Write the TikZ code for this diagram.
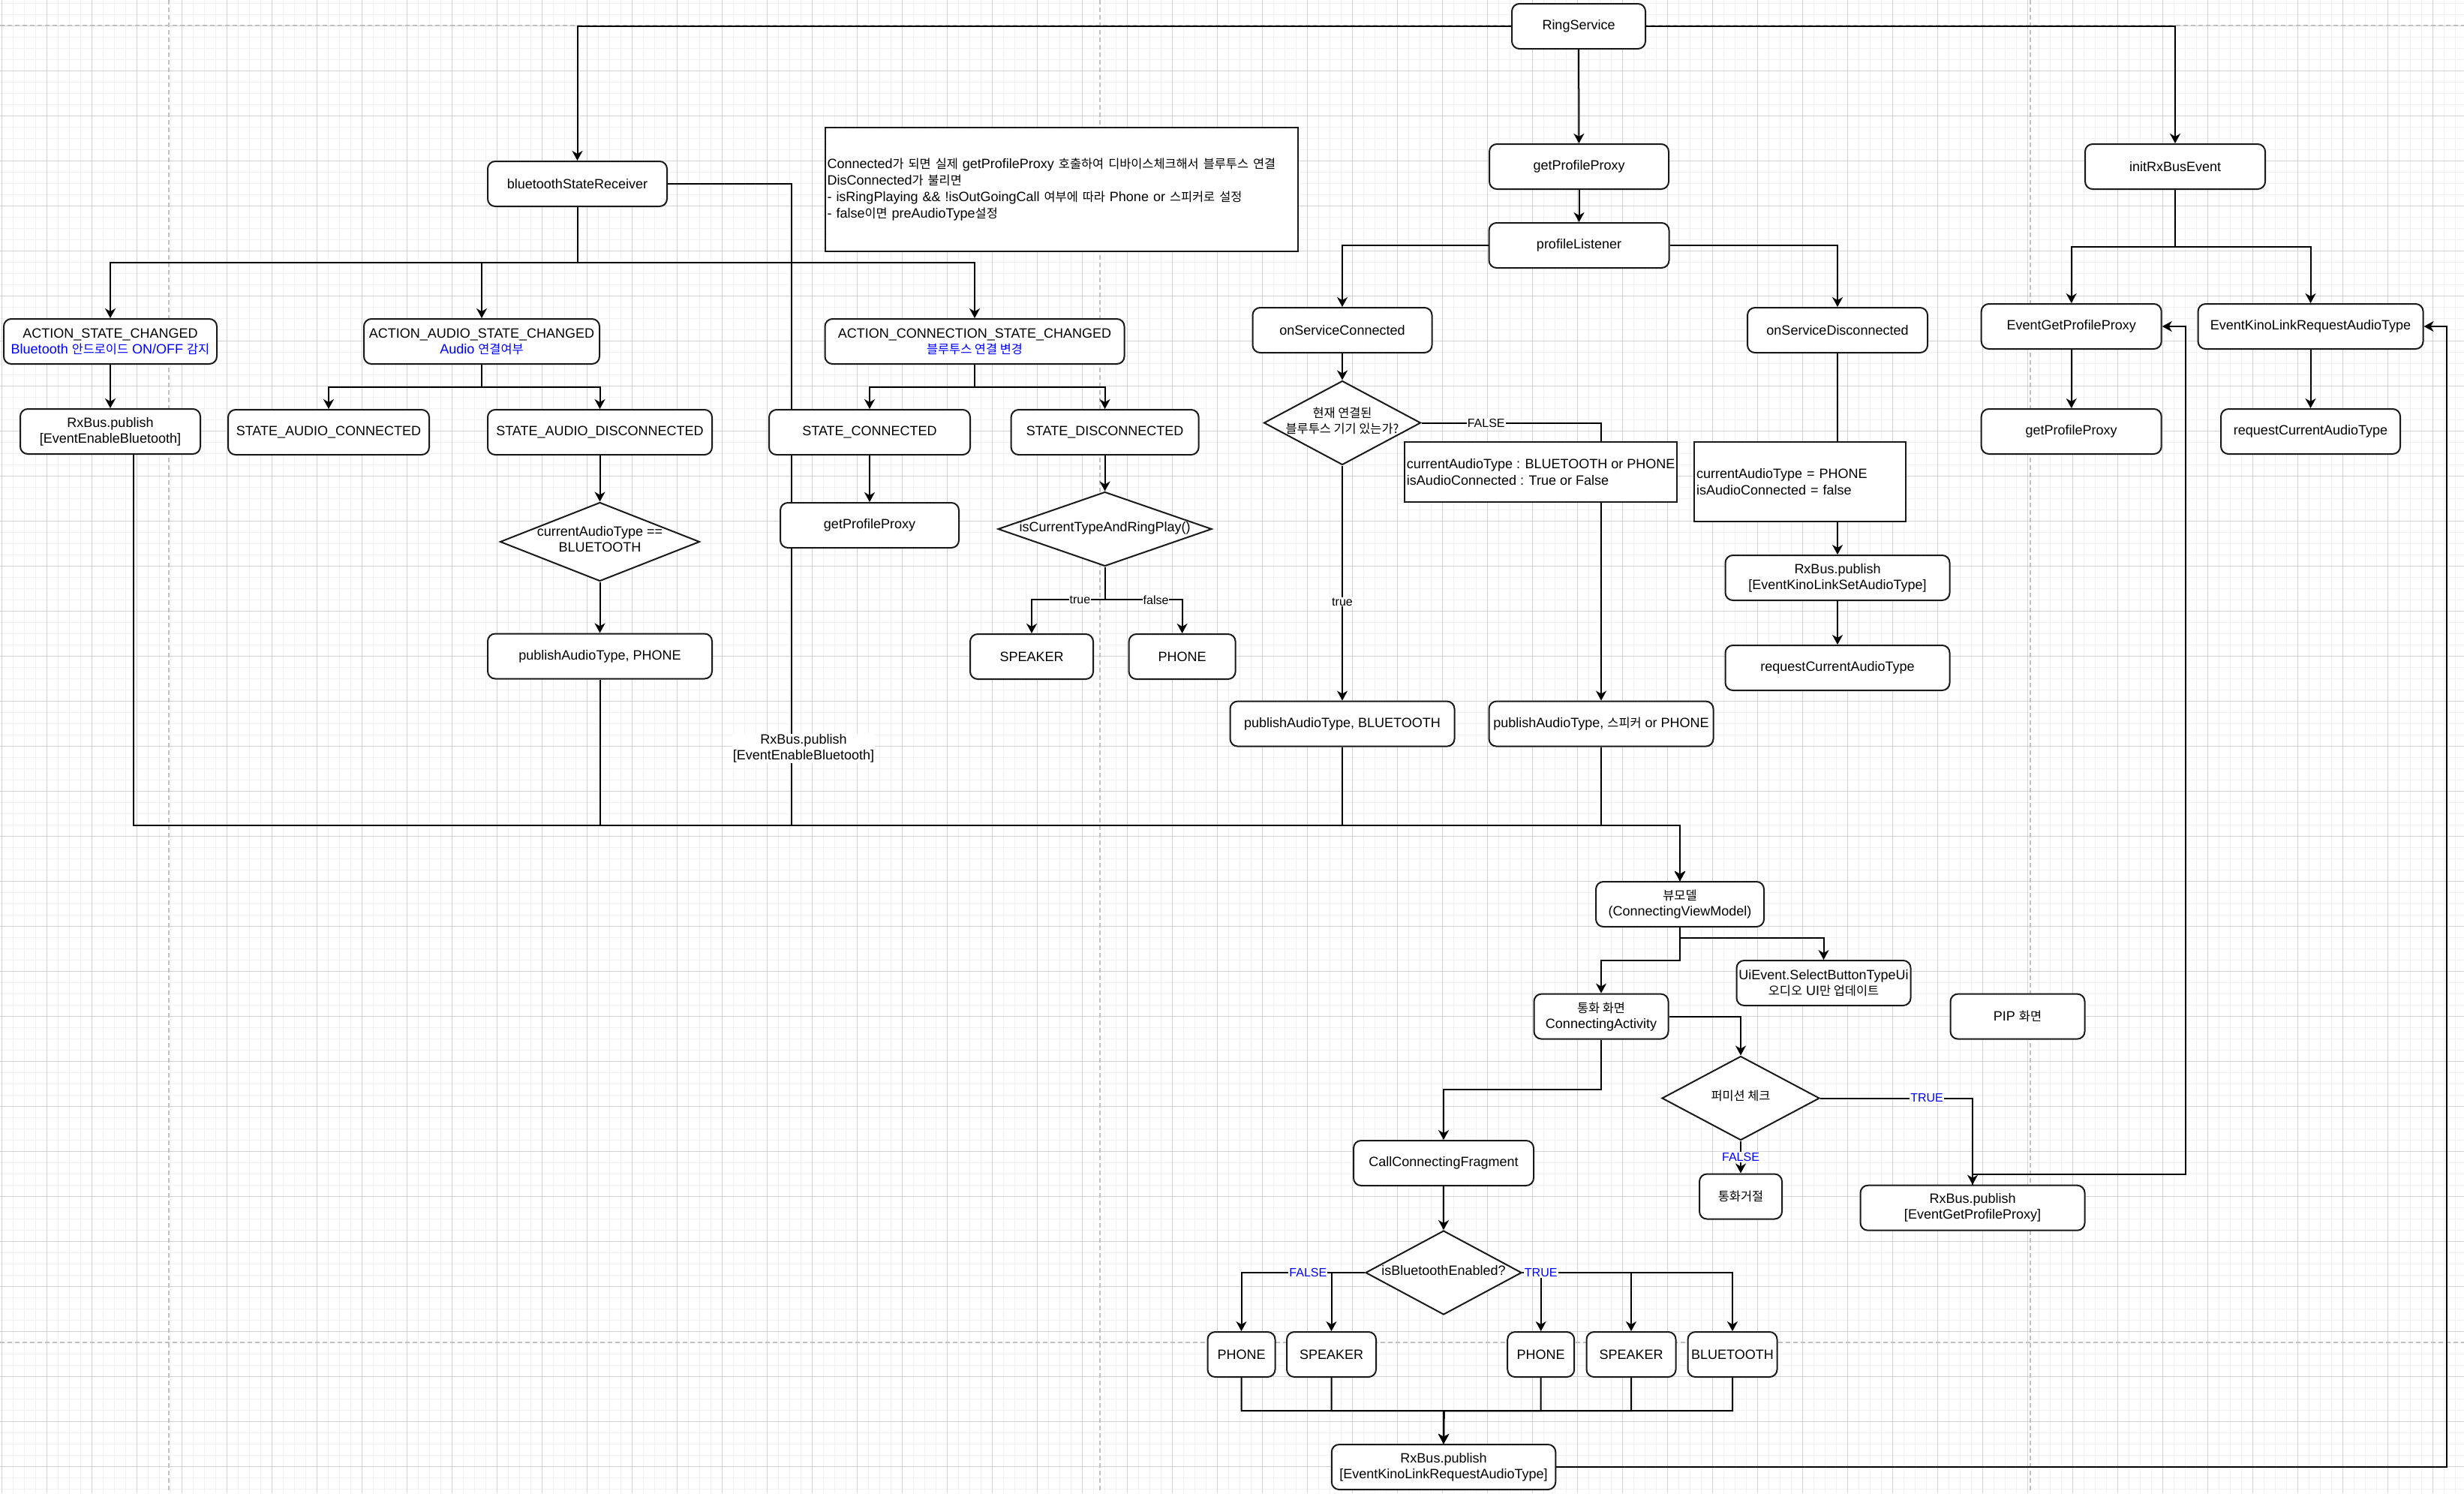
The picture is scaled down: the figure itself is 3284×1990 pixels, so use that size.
\documentclass[tikz,border=0pt]{standalone}
\usepackage{fontspec}
\setmainfont{Liberation Sans}
\newfontfamily\krfont[Scale=0.91]{Noto Sans CJK KR}
\newcommand{\kr}[1]{{\krfont #1}}
\usetikzlibrary{shapes.geometric, arrows.meta, positioning, calc}
\definecolor{gridminor}{RGB}{241,241,241}
\definecolor{gridmajor}{RGB}{210,210,210}
\definecolor{pagebreak}{RGB}{192,192,192}
\definecolor{strokecol}{RGB}{25,25,25}
\definecolor{hintblue}{RGB}{0,0,255}
\newcommand{\boxfont}{\fontsize{18}{21}\selectfont}
\newcommand{\memofont}{\fontsize{18}{22}\selectfont}
\newcommand{\lblfont}{\fontsize{16}{19}\selectfont}
\newcommand{\dtext}[1]{\makebox[0pt]{\smash{\raisebox{-3.5pt}{\begin{tabular}{@{}c@{}}#1\end{tabular}}}}}
\pgfdeclarelayer{grid}
\pgfdeclarelayer{background}
\pgfsetlayers{grid,background,main}
\tikzset{
  box/.style={
    rectangle, rounded corners=10pt,
    minimum width=#1, minimum height=60pt,
    draw=strokecol, line width=2pt, fill=white,
    font=\boxfont, align=center, inner sep=2pt
  },
  box/.default=240pt,
  decision/.style 2 args={
    diamond, minimum width=#1, minimum height=#2,
    draw=strokecol, line width=2pt, fill=white,
    font=\boxfont, inner sep=0pt
  },
  memo/.style={
    rectangle, draw=strokecol, line width=2pt, fill=white,
    font=\memofont, align=left, inner sep=3pt
  },
  flow/.style={-{Stealth[length=13pt, width=14pt, inset=4pt]}, line width=2pt, draw=black},
  elabel/.style={font=\lblfont, fill=white, inner sep=1pt},
  tlabel/.style={font=\boxfont, fill=white, inner sep=1pt, align=center}
}

\begin{document}
\begin{tikzpicture}[x=1pt, y=-1pt]
\useasboundingbox (0,0) rectangle (3284,1990);

% ═══════════════════════════════════════════════════════════════════
% CANVAS — grid and page breaks
% ═══════════════════════════════════════════════════════════════════
\begin{pgfonlayer}{grid}
  \fill[white] (0,0) rectangle (3284,1990);
  \foreach \gx in {2.3,17.3,...,3284} \draw[gridminor, line width=1pt] (\gx,0) -- (\gx,1990);
  \foreach \gy in {4.3,19.3,...,1990} \draw[gridminor, line width=1pt] (0,\gy) -- (3284,\gy);
  \foreach \gx in {2.3,62.3,...,3284} \draw[gridmajor, line width=1pt] (\gx,0) -- (\gx,1990);
  \foreach \gy in {34.3,94.3,...,1990} \draw[gridmajor, line width=1pt] (0,\gy) -- (3284,\gy);
  \foreach \gx in {225,1465.5,2706}
    \draw[pagebreak, line width=2pt, dash pattern=on 6pt off 4pt] (\gx,0) -- (\gx,1990);
  \foreach \gy in {34.3,1789}
    \draw[pagebreak, line width=2pt, dash pattern=on 6pt off 4pt] (0,\gy) -- (3284,\gy);
\end{pgfonlayer}

% ═══════════════════════════════════════════════════════════════════
% TOP — RingService and its three children
% ═══════════════════════════════════════════════════════════════════
\node[box=178pt] (ringsvc) at (2104,35) {RingService};

\node[box=239pt] (btrecv)   at (769.5,245) {bluetoothStateReceiver};
\node[box=239pt] (getproxy) at (2104.5,222) {getProfileProxy};
\node[box=240pt] (initrx)   at (2899,222) {initRxBusEvent};

\node[box=240pt, below=43pt of getproxy] (proflistener) {profileListener};

\node[memo, text width=624pt, minimum height=165pt] (notebig) at (1414.5,252.5)
  {Connected\kr{가 되면 실제} getProfileProxy \kr{호출하여 디바이스체크해서 블루투스 연결}\\
   DisConnected\kr{가 불리면}\\
   - isRingPlaying \&\& !isOutGoingCall \kr{여부에 따라} Phone or \kr{스피커로 설정}\\
   - false\kr{이면} preAudioType\kr{설정}};

% ═══════════════════════════════════════════════════════════════════
% LEFT — bluetoothStateReceiver actions
% ═══════════════════════════════════════════════════════════════════
\node[box=284pt] (actstate) at (147,455)
  {ACTION\_STATE\_CHANGED\\\textcolor{hintblue}{Bluetooth \kr{안드로이드} ON/OFF \kr{감지}}};
\node[box=314pt] (actaudio) at (642,455)
  {ACTION\_AUDIO\_STATE\_CHANGED\\\textcolor{hintblue}{Audio \kr{연결여부}}};
\node[box=399pt] (actconn) at (1299,455)
  {ACTION\_CONNECTION\_STATE\_CHANGED\\\textcolor{hintblue}{\kr{블루투스 연결 변경}}};

\node[box=240pt, below=58pt of actstate] (rxenable) {RxBus.publish\\{[}EventEnableBluetooth{]}};

\node[box=268pt] (staudioconn) at (438,576)    {STATE\_AUDIO\_CONNECTED};
\node[box=299pt] (staudiodisc) at (799.5,576)  {STATE\_AUDIO\_DISCONNECTED};
\node[box=268pt] (stconn)      at (1159,576)   {STATE\_CONNECTED};
\node[box=250pt] (stdisc)      at (1472.6,576) {STATE\_DISCONNECTED};

\node[decision={266pt}{105pt}] (decbtaudio) at (799.5,722) {\dtext{currentAudioType ==\\BLUETOOTH}};
\node[box=299pt, below=68pt of decbtaudio] (pubphone) {publishAudioType, PHONE};

\node[box=238pt, below=62pt of stconn] (getproxymid) {getProfileProxy};
\node[decision={285pt}{99pt}] (decringplay) at (1472.6,705) {\dtext{isCurrentTypeAndRingPlay()}};
\node[box=164pt] (speakermid) at (1375,875)   {SPEAKER};
\node[box=142pt] (phonemid)   at (1575.6,875) {PHONE};

% ═══════════════════════════════════════════════════════════════════
% MIDDLE — profileListener callbacks
% ═══════════════════════════════════════════════════════════════════
\node[box=239pt] (svcconn) at (1789,440) {onServiceConnected};
\node[box=240pt] (svcdisc) at (2449,440) {onServiceDisconnected};

\node[decision={209pt}{112pt}] (decbt) at (1789,563.5) {\dtext{\kr{현재 연결된}\\\kr{블루투스 기기 있는가?}}};

\node[memo, minimum width=363.5pt, minimum height=80pt] (notefalse) at (2053.7,629.4)
  {currentAudioType : BLUETOOTH or PHONE\\isAudioConnected : True or False};
\node[memo, text width=275.5pt, minimum height=105.6pt] (notephone) at (2398.8,642.2)
  {currentAudioType = PHONE\\isAudioConnected = false};

\node[box=299pt] (pubbt)  at (1789,964.6) {publishAudioType, BLUETOOTH};
\node[box=299pt] (pubspk) at (2134,964.6) {publishAudioType, \kr{스피커} or PHONE};

\node[box=299pt] (rxsetaudio) at (2449,770) {RxBus.publish\\{[}EventKinoLinkSetAudioType{]}};
\node[box=299pt, below=58pt of rxsetaudio] (reqaudiomid) {requestCurrentAudioType};

% ═══════════════════════════════════════════════════════════════════
% RIGHT — initRxBusEvent subscriptions
% ═══════════════════════════════════════════════════════════════════
\node[box=240pt] (evgetproxy) at (2760.7,435) {EventGetProfileProxy};
\node[box=300pt] (evkinoreq)  at (3079.5,435) {EventKinoLinkRequestAudioType};
\node[box=240pt, below=78pt of evgetproxy] (getproxyright) {getProfileProxy};
\node[box=239pt, below=78pt of evkinoreq]  (reqaudioright) {requestCurrentAudioType};

% ═══════════════════════════════════════════════════════════════════
% BOTTOM — view model and call screen
% ═══════════════════════════════════════════════════════════════════
\coordinate (bus) at (2239,1100);

\node[box=224pt] (viewmodel) at (2239,1205) {\kr{뷰모델}\\(ConnectingViewModel)};
\node[box=232pt] (uievent)   at (2430.5,1310) {UiEvent.SelectButtonTypeUi\\\kr{오디오} UI\kr{만 업데이트}};
\node[box=179pt] (activity)  at (2134,1354.6) {\kr{통화 화면}\\ConnectingActivity};
\node[box=179pt] (pip)       at (2689,1354.6) {PIP \kr{화면}};

\node[decision={210pt}{112pt}] (decperm) at (2320,1463.5) {\dtext{\kr{퍼미션 체크}}};
\node[box=110pt, below=43pt of decperm] (reject) {\kr{통화거절}};
\node[box=299pt] (rxgetproxy) at (2629,1609.7) {RxBus.publish\\{[}EventGetProfileProxy{]}};

\node[box=240pt] (callfrag) at (1924,1550) {CallConnectingFragment};
\node[decision={208pt}{112pt}, below=58pt of callfrag] (decbten) {\dtext{isBluetoothEnabled?}};

\node[box=90pt]  (phoneF)   at (1654.5,1805) {PHONE};
\node[box=119pt] (speakerF) at (1774.5,1805) {SPEAKER};
\node[box=89pt]  (phoneT)   at (2053.7,1805) {PHONE};
\node[box=119pt] (speakerT) at (2174,1805)   {SPEAKER};
\node[box=119pt] (btT)      at (2309,1805)   {BLUETOOTH};

\coordinate (merge) at (1924.3,1880);
\node[box=298.5pt] (rxreqaudio) at (1924,1955) {RxBus.publish\\{[}EventKinoLinkRequestAudioType{]}};

% ═══════════════════════════════════════════════════════════════════
% SEQUENCE FLOWS (behind the boxes)
% ═══════════════════════════════════════════════════════════════════
\begin{pgfonlayer}{background}

% RingService fan-out
\draw[flow] (ringsvc.west) -| (btrecv.north);
\draw[flow] (ringsvc) -- (getproxy);
\draw[flow] (ringsvc.east) -| (initrx.north);
\draw[flow] (getproxy) -- (proflistener);

% bluetoothStateReceiver actions
\draw[flow] (btrecv.south) -- ++(0,73.6) -| (actstate.north);
\draw[flow] (btrecv.south) -- ++(0,73.6) -| (actaudio.north);
\draw[flow] (btrecv.south) -- ++(0,73.6) -| (actconn.north);
\draw[flow] (actstate) -- (rxenable);

\draw[flow] (actaudio.south) -- ++(0,29.6) -| (staudioconn.north);
\draw[flow] (actaudio.south) -- ++(0,29.6) -| (staudiodisc.north);
\draw[flow] (staudiodisc) -- (decbtaudio);
\draw[flow] (decbtaudio) -- (pubphone);

\draw[flow] (actconn.south) -- ++(0,29.6) -| (stconn.north);
\draw[flow] (actconn.south) -- ++(0,29.6) -| (stdisc.north);
\draw[flow] (stconn) -- (getproxymid);
\draw[flow] (stdisc) -- (decringplay);
\draw[flow] (decringplay.south) -- ++(0,43.8) -| node[elabel, pos=0.17]{true} (speakermid.north);
\draw[flow] (decringplay.south) -- ++(0,43.8) -| node[elabel, pos=0.33]{false} (phonemid.north);

% profileListener callbacks
\draw[flow] (proflistener.west) -| (svcconn.north);
\draw[flow] (proflistener.east) -| (svcdisc.north);
\draw[flow] (svcconn) -- (decbt);
\draw[flow] (decbt) -- node[elabel, pos=0.58]{true} (pubbt);
\draw[flow] (decbt.east) -| node[elabel, pos=0.18]{FALSE} (pubspk.north);
\draw[flow] (svcdisc) -- (rxsetaudio);
\draw[flow] (rxsetaudio) -- (reqaudiomid);

% initRxBusEvent subscriptions
\draw[flow] (initrx.south) -- ++(0,75.7) -| (evgetproxy.north);
\draw[flow] (initrx.south) -- ++(0,75.7) -| (evkinoreq.north);
\draw[flow] (evgetproxy) -- (getproxyright);
\draw[flow] (evkinoreq) -- (reqaudioright);

% everything that lands in the view model
\draw[flow] ([xshift=31pt]rxenable.south) |- (bus) -- (viewmodel.north);
\draw[flow] (pubphone.south) |- (bus) -- (viewmodel.north);
\draw[flow] (btrecv.east) -- ++(165,0)
  |- node[tlabel, pos=0.44, xshift=16pt]{RxBus.publish\\{[}EventEnableBluetooth{]}} (bus)
  -- (viewmodel.north);
\draw[flow] (pubbt.south) |- (bus) -- (viewmodel.north);
\draw[flow] (pubspk.south) |- (bus) -- (viewmodel.north);

% view model → screens
\draw[flow] (viewmodel.south) -- ++(0,13.7) -| (uievent.north);
\draw[flow] (viewmodel.south) -- ++(0,43.9) -| (activity.north);
\draw[flow] (activity.east) -| (decperm.north);
\draw[flow] (decperm.east) -| node[elabel, text=hintblue, pos=0.35]{TRUE} (rxgetproxy.north);
\draw[flow] (decperm) -- node[elabel, text=hintblue]{FALSE} (reject);
\draw[flow] (activity.south) -- ++(0,66.4) -| (callfrag.north);

% EventGetProfileProxy loop back
\draw[flow] (rxgetproxy.north) -- ++(0,-13.7) -| ($(evgetproxy.east)+(30.8,0)$) -- (evgetproxy.east);

% fragment audio branches
\draw[flow] (callfrag) -- (decbten);
\draw[flow] (decbten.west) -| (speakerF.north);
\draw[flow] (decbten.west) -| node[elabel, text=hintblue, pos=0.23]{FALSE} (phoneF.north);
\draw[flow] (decbten.east) -| (speakerT.north);
\draw[flow] (decbten.east) -| (btT.north);
\draw[flow] (decbten.east) -| node[elabel, text=hintblue, pos=0.5]{TRUE} (phoneT.north);

\foreach \n in {phoneF,speakerF,phoneT,speakerT,btT}
  \draw[flow] (\n.south) |- (merge) -- (rxreqaudio.north);

% EventKinoLinkRequestAudioType loop back
\draw[flow] (rxreqaudio.east) -| ($(evkinoreq.east)+(30.3,0)$) -- (evkinoreq.east);

\end{pgfonlayer}

\end{tikzpicture}
\end{document}
